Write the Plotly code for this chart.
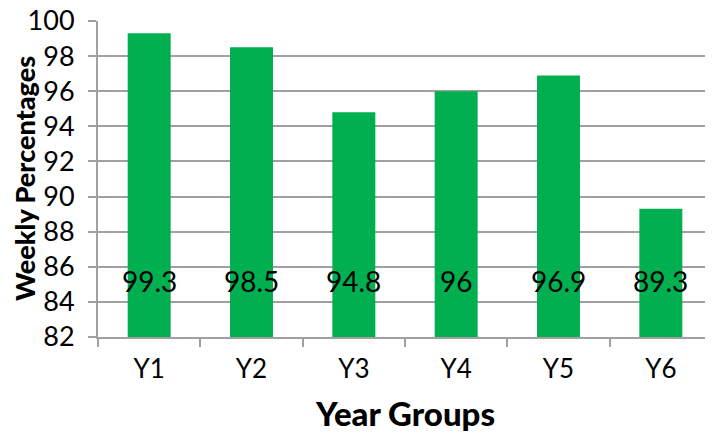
import plotly.graph_objects as go

categories = ["Y1", "Y2", "Y3", "Y4", "Y5", "Y6"]
values = [99.3, 98.5, 94.8, 96, 96.9, 89.3]
y_ticks = [82, 84, 86, 88, 90, 92, 94, 96, 98, 100]
label_level = 85.2

fig = go.Figure()
fig.add_trace(go.Bar(
    x=categories, y=values,
    marker=dict(color="#00B050", line=dict(width=0)),
    width=0.42,
    hoverinfo="x+y",
))
for c, v in zip(categories, values):
    fig.add_annotation(x=c, y=label_level, xref="x", yref="y",
                       text=f"{v:g}", showarrow=False,
                       font=dict(family="Lato", size=28, color="#000000"))

fig.add_annotation(xref="paper", yref="paper", x=0, y=0.5, xshift=-74,
                   xanchor="center", yanchor="middle", textangle=-90,
                   text="Weekly Percentages", showarrow=False,
                   font=dict(family="Lato", size=27, weight=900, color="#000000"))
fig.add_annotation(xref="paper", yref="paper", x=0.5, y=0, yshift=-76,
                   xanchor="center", yanchor="middle",
                   text="Year Groups", showarrow=False,
                   font=dict(family="Lato", size=33, weight=900, color="#000000"))

# page body has an 8px margin: shrink figure and shift margins to compensate
fig.update_layout(
    width=705, height=425,
    margin=dict(l=90, r=1, t=13, b=96),
    paper_bgcolor="white", plot_bgcolor="white",
    showlegend=False,
    font=dict(family="Lato", color="#000000"),
    xaxis=dict(
        type="category", automargin=False,
        showline=True, linecolor="#A0A0A0", linewidth=2,
        ticks="outside", tickson="boundaries", ticklen=8, tickwidth=2, tickcolor="#A0A0A0",
        tickfont=dict(family="Lato", size=26),
        ticklabelstandoff=8,
        showgrid=False,
    ),
    yaxis=dict(
        range=[82, 100], automargin=False,
        tickvals=y_ticks,
        showline=True, linecolor="#A0A0A0", linewidth=2,
        ticks="outside", ticklen=8, tickwidth=2, tickcolor="#A0A0A0",
        tickfont=dict(family="Lato", size=27),
        ticklabelstandoff=8,
        ticklabeloverflow="allow",
        showgrid=True, gridcolor="#A0A0A0", gridwidth=1.5,
        zeroline=False,
    ),
)

fig.write_html("out.html")
